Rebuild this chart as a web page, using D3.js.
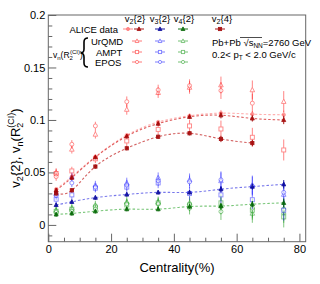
<!DOCTYPE html>
<html><head><meta charset="utf-8">
<script src="https://cdn.jsdelivr.net/npm/d3@7/dist/d3.min.js"></script>
<style>body{margin:0;background:#fff}svg{display:block;font-family:"Liberation Sans",Arial,sans-serif}</style>
</head><body><svg id="c" width="320" height="284"></svg>
<script>
const cent = [2.5,7.5,15,25,35,45,55,65,75];
const xTicks = [0,20,40,60,80];
const yTicks = [0,0.05,0.1,0.15,0.2];
const yTickLabels = ["0","0.05","0.1","0.15","0.2"];
// ALICE data
const aliceV22 = [0.034,0.046,0.065,0.0855,0.098,0.104,0.1065,0.1055,0.105];
const aliceV22gap = [0.033,0.045,0.0645,0.0845,0.0965,0.103,0.1045,0.1015,0.100];
const aliceV24 = [0.030,0.033,0.0556,0.073,0.084,0.0873,0.0819,0.078,null];
const aliceV32 = [0.019,0.022,0.026,0.029,0.031,0.031,0.034,0.0365,0.0387];
const aliceV42 = [0.010,0.011,0.013,0.015,0.015,0.0175,0.018,0.0197,0.021];
// models v2
const urqmdV2 = [0.050,0.072,0.0863,0.110,0.126,0.131,0.1333,0.1286,0.1175];
const amptV2 = [0.049,0.0514,0.063,0.080,0.091,0.0943,0.0914,0.0835,0.0714];
const eposV2 = [0.046,0.0768,0.0943,0.1174,0.1286,0.1327,0.128,0.116,null];
// models v3
const urqmdV3 = [0.030,0.046,0.038,0.040,0.045,0.043,0.042,0.038,0.029];
const amptV3 = [0.0245,0.0286,0.035,0.036,0.040,0.030,0.0286,0.024,0.014];
const eposV3 = [0.028,0.040,0.036,0.038,0.042,0.041,0.043,0.037,0.031];
// models v4
const urqmdV4 = [0.014,0.016,0.019,0.022,0.022,0.021,0.018,0.011,0.012];
const amptV4 = [0.013,0.015,0.017,0.019,0.021,0.019,0.021,0.014,0.0076];
const eposV4 = [0.012,0.013,0.015,0.020,0.020,0.016,0.0127,0.016,0.015];
const errModel = [0.004,0.004,0.004,0.005,0.005,0.006,0.008,0.009,0.01];
const errData = [0.002,0.002,0.002,0.002,0.002,0.002,0.003,0.003,0.004];

const svg = d3.select("#c");
const x = d3.scaleLinear().domain([0,82]).range([48.3,305.7]);
const y = d3.scaleLinear().domain([-0.016,0.2]).range([241.7,15]);
const X0=48.3,X1=305.7,Y0=241.7,Y1=15;

const RED="#ff2020", DRED="#a00000", BLUE="#2828ff", DBLUE="#000099", GREEN="#1a9a1a", DGREEN="#006400";

svg.append("rect").attr("x",X0).attr("y",Y1).attr("width",X1-X0).attr("height",Y0-Y1)
  .attr("fill","none").attr("stroke","#666").attr("stroke-width",1);

const gx = svg.append("g").attr("transform",`translate(0,${Y0})`)
  .call(d3.axisBottom(x).tickValues(d3.range(0,82,5)).tickSize(0).tickFormat(""));
gx.select(".domain").remove();
gx.selectAll(".tick").append("line").attr("y1",0).attr("y2",d=>d%20===0?-8:-4).attr("stroke","#666");
const gxl = svg.append("g").attr("transform",`translate(0,${Y0})`)
  .call(d3.axisBottom(x).tickValues(xTicks).tickSize(0).tickPadding(4));
gxl.select(".domain").remove();
gxl.selectAll("text").attr("font-size",11).attr("fill","#000").attr("font-family","Liberation Sans, Arial");

const gy = svg.append("g").attr("transform",`translate(${X0},0)`)
  .call(d3.axisLeft(y).tickValues(d3.range(-0.01,0.2001,0.01)).tickSize(0).tickFormat(""));
gy.select(".domain").remove();
gy.selectAll(".tick").append("line").attr("x1",0).attr("x2",d=> (Math.round(d*100))%5===0?8:4).attr("stroke","#666");
const gyl = svg.append("g").attr("transform",`translate(${X0},0)`)
  .call(d3.axisLeft(y).tickValues(yTicks).tickSize(0).tickPadding(3).tickFormat((d,i)=>yTickLabels[i]));
gyl.select(".domain").remove();
gyl.selectAll("text").attr("font-size",11).attr("fill","#000").attr("font-family","Liberation Sans, Arial");

svg.append("text").attr("x",177).attr("y",272).attr("text-anchor","middle").attr("font-size",13).text("Centrality(%)");
const yt = svg.append("text").attr("transform","translate(20,148) rotate(-90)").attr("text-anchor","middle").attr("font-size",13);
yt.append("tspan").text("v");
yt.append("tspan").attr("font-size",9).attr("dy",3).text("2");
yt.append("tspan").attr("dy",-3).text("{2}, v");
yt.append("tspan").attr("font-size",9).attr("dy",3).text("n");
yt.append("tspan").attr("dy",-3).text("(R");
yt.append("tspan").attr("font-size",9).attr("dy",3).text("2");
yt.append("tspan").attr("font-size",9).attr("dy",-9).attr("dx",-5).text("(CI)");
yt.append("tspan").attr("dy",6).text(")");

const pts = arr => cent.map((c,i)=>[c,arr[i]]).filter(d=>d[1]!=null);
const line2 = d3.line().x(d=>x(d[0])).y(d=>y(d[1])).curve(d3.curveNatural);
const plotG = svg.append("g");
function curve(arr,col,op){ plotG.append("path").attr("d",line2(pts(arr))).attr("fill","none")
  .attr("stroke",col).attr("stroke-width",1.1).attr("stroke-dasharray","2.5,2").attr("opacity",op); }
curve(aliceV22,"#ff5050",0.45);
curve(aliceV22gap,"#d02020",0.7);
curve(aliceV24,"#c02020",0.7);
curve(aliceV32,"#3030e0",0.65);
curve(aliceV42,"#20a020",0.6);

function sym(g,type,cx,cy,col,filled,s){
  const f = filled?col:"#fff";
  if(type==="tri") g.append("path").attr("d",`M${cx},${cy-s*1.1}L${cx+s},${cy+s*0.8}L${cx-s},${cy+s*0.8}Z`).attr("fill",f).attr("stroke",col).attr("stroke-width",0.9);
  else if(type==="sq") g.append("rect").attr("x",cx-s+0.3).attr("y",cy-s+0.3).attr("width",2*s-0.6).attr("height",2*s-0.6).attr("fill",f).attr("stroke",col).attr("stroke-width",0.9);
  else g.append("circle").attr("cx",cx).attr("cy",cy).attr("r",s-0.3).attr("fill",f).attr("stroke",col).attr("stroke-width",0.9);
}
function series(arr,err,type,col,filled,op,s){
  const g = plotG.append("g").attr("opacity",op);
  cent.forEach((c,i)=>{
    const v=arr[i]; if(v==null) return;
    const cx=x(c), cy=y(v);
    g.append("line").attr("x1",cx).attr("x2",cx).attr("y1",y(v+err[i])).attr("y2",y(v-err[i])).attr("stroke",col).attr("stroke-width",1);
    sym(g,type,cx,cy,col,filled,s);
  });
}
series(urqmdV4,errModel,"tri",GREEN,false,0.55,2.3);
series(amptV4,errModel,"sq",GREEN,false,0.55,2.3);
series(eposV4,errModel,"circ",GREEN,false,0.55,2.3);
series(urqmdV3,errModel,"tri",BLUE,false,0.55,2.3);
series(amptV3,errModel,"sq",BLUE,false,0.55,2.3);
series(eposV3,errModel,"circ",BLUE,false,0.55,2.3);
series(urqmdV2,errModel,"tri",RED,false,0.55,2.3);
series(amptV2,errModel,"sq",RED,false,0.55,2.3);
series(eposV2,errModel,"circ",RED,false,0.55,2.3);
series(aliceV42,errData,"tri",DGREEN,true,0.9,2);
series(aliceV32,errData,"tri",DBLUE,true,0.9,2);
series(aliceV22,errData,"circ",RED,true,0.45,2);
series(aliceV22gap,errData,"tri",DRED,true,0.9,2);
series(aliceV24,errData,"sq",DRED,true,0.9,1.9);

const L = svg.append("g").attr("font-size",9.5);
function hdr(cx,n,k){ const t=L.append("text").attr("x",cx).attr("y",22).attr("text-anchor","middle");
  t.append("tspan").text("v"); t.append("tspan").attr("font-size",7).attr("dy",2).text(n); t.append("tspan").attr("dy",-2).text(`{${k}}`); }
hdr(135,"2","2"); hdr(160,"3","2"); hdr(184,"4","2"); hdr(222,"2","4");
L.append("text").attr("x",118).attr("y",32.5).attr("text-anchor","end").text("ALICE data");
L.append("text").attr("x",91).attr("y",44.5).text("UrQMD");
L.append("text").attr("x",96).attr("y",56).text("AMPT");
L.append("text").attr("x",95).attr("y",66).text("EPOS");
function lm(cx,cy,type,col,filled,op){ const g=L.append("g").attr("opacity",op);
  g.append("line").attr("x1",cx-5).attr("x2",cx+5).attr("y1",cy).attr("y2",cy).attr("stroke",col);
  sym(g,type,cx,cy,col,filled,1.9); }
lm(128,29,"circ",RED,true,0.55); lm(139,29,"tri",DRED,true,0.9); lm(160,29,"tri",DBLUE,true,0.9); lm(183,29,"tri",DGREEN,true,0.9); lm(220,29,"sq",DRED,true,0.9);
lm(137,41,"tri",RED,false,0.6); lm(160,41,"tri",BLUE,false,0.6); lm(183,41,"tri",GREEN,false,0.6);
lm(137,52,"sq",RED,false,0.6); lm(160,52,"sq",BLUE,false,0.6); lm(183,52,"sq",GREEN,false,0.6);
lm(137,62,"circ",RED,false,0.6); lm(160,62,"circ",BLUE,false,0.6); lm(183,62,"circ",GREEN,false,0.6);
// brace (drawn as path)
svg.append("path").attr("d","M88,38 Q84,38 84,42 L84,49 Q84,53 80.5,53 Q84,53 84,57 L84,63 Q84,67 88,67")
  .attr("fill","none").attr("stroke","#000").attr("stroke-width",1.6);
const vl=L.append("text").attr("x",53).attr("y",57.5).attr("font-size",8.5);
vl.append("tspan").text("v"); vl.append("tspan").attr("font-size",6).attr("dy",2).text("n");
vl.append("tspan").attr("dy",-2).text("(R"); vl.append("tspan").attr("font-size",6).attr("dy",2).text("2");
vl.append("tspan").attr("font-size",6).attr("dy",-6).attr("dx",-3).text("(CI)"); vl.append("tspan").attr("dy",4).text(")");
const i1=L.append("text").attr("x",212).attr("y",46).attr("font-size",9.5);
i1.append("tspan").text("Pb+Pb ");
i1.append("tspan").text("\u221As");
i1.append("tspan").attr("font-size",6.5).attr("dy",2).text("NN");
i1.append("tspan").attr("dy",-2).text("=2760 GeV");
svg.append("line").attr("x1",240).attr("x2",262).attr("y1",37.5).attr("y2",37.5).attr("stroke","#000").attr("stroke-width",0.7);
const i2=L.append("text").attr("x",212).attr("y",58).attr("font-size",9.5);
i2.append("tspan").text("0.2< p"); i2.append("tspan").attr("font-size",6.5).attr("dy",2).text("T");
i2.append("tspan").attr("dy",-2).text(" < 2.0 GeV/c");
</script></body></html>
